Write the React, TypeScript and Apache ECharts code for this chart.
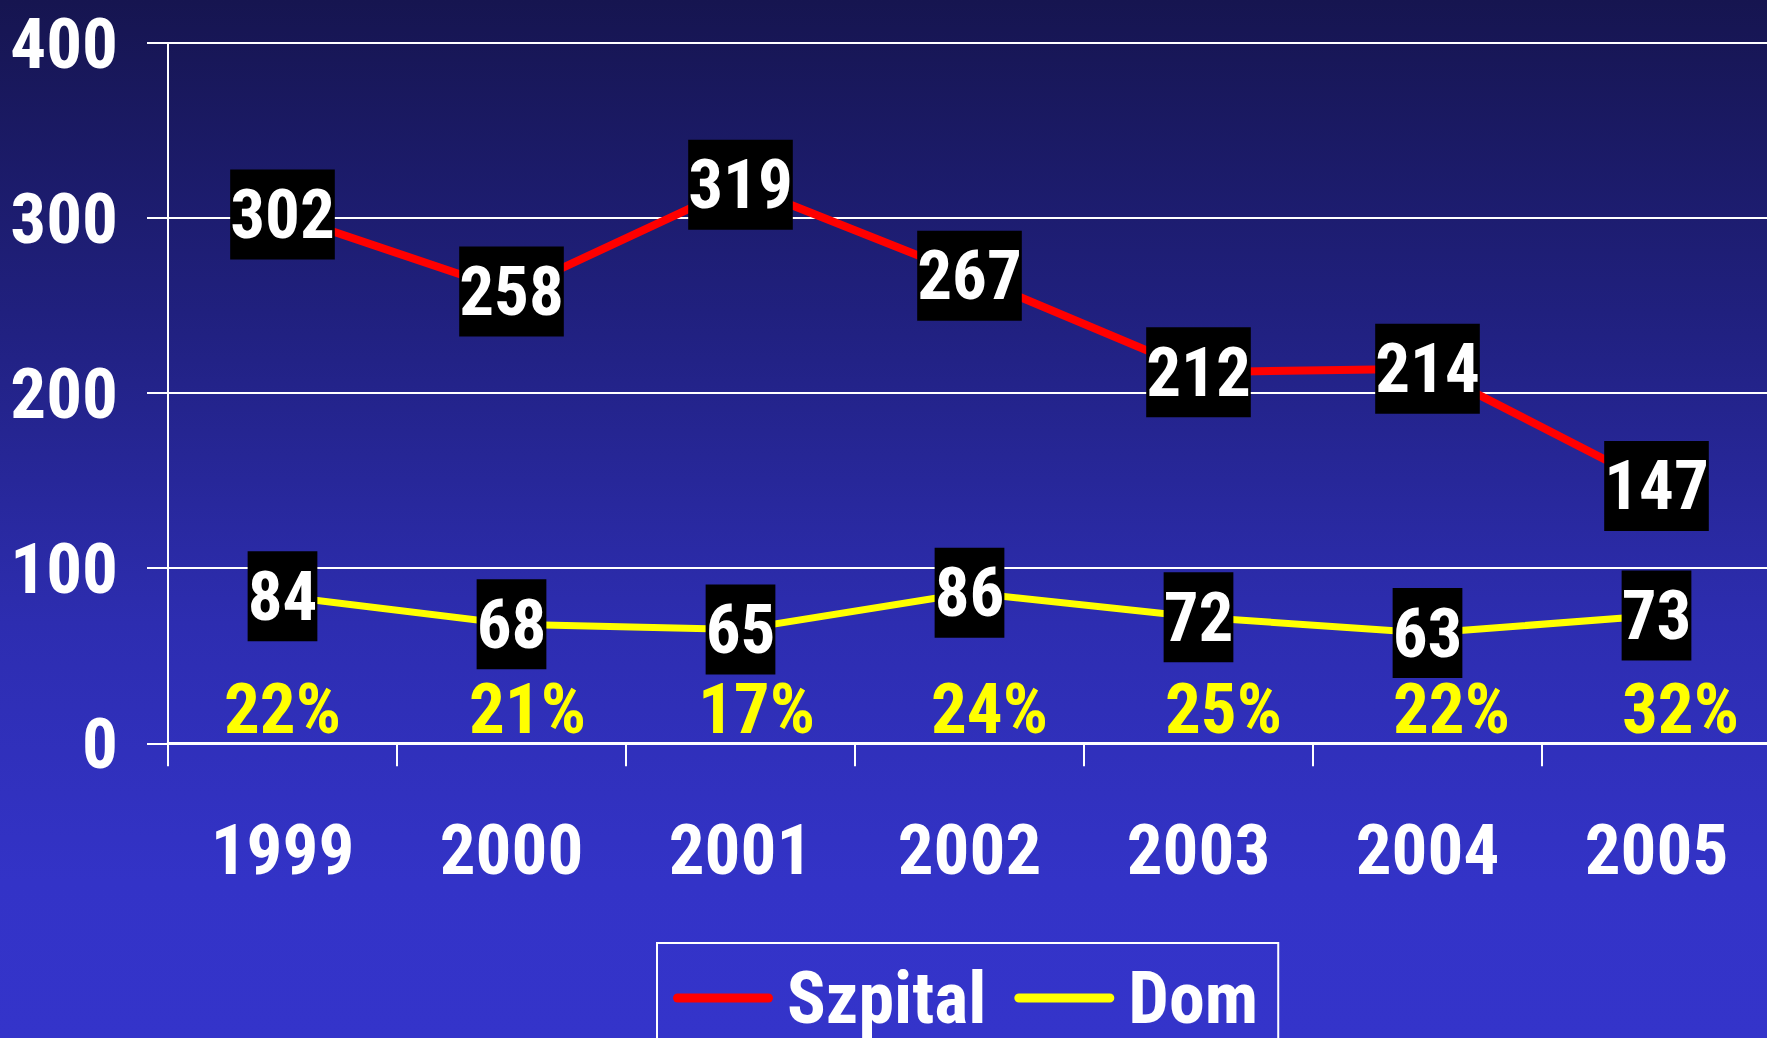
import React, { useEffect, useRef } from "react";
import * as echarts from "echarts";

const years = ["1999", "2000", "2001", "2002", "2003", "2004", "2005"];
const szpital = [302, 258, 319, 267, 212, 214, 147];
const dom = [84, 68, 65, 86, 72, 63, 73];
const domShare = ["22%", "21%", "17%", "24%", "25%", "22%", "32%"];
const yTicks = { min: 0, max: 400, interval: 100 };

const FONT = "'Roboto Condensed', 'Liberation Sans Narrow', 'Arial Narrow', 'Liberation Sans', Arial, sans-serif";
const shareNudge = [0, 16, 16, 20, 25, 24, 24];

export default function App() {
  const ref = useRef<HTMLDivElement>(null);
  useEffect(() => {
    document.body.style.margin = "0";
    document.body.style.overflow = "hidden";
    const chart = echarts.init(ref.current!, null, { renderer: "svg" });
    const rich: Record<string, any> = {};
    shareNudge.forEach((n, i) => {
      rich["s" + i] = {
        color: "#ffff00",
        fontSize: 71,
        lineHeight: 64,
        fontWeight: "bold",
        fontFamily: FONT,
        padding: [0, 0, 0, 2 * n],
      };
    });
    const dataLabel = {
      show: true,
      position: "inside",
      color: "#ffffff",
      backgroundColor: "#000000",
      fontSize: 69,
      fontWeight: "bold",
      fontFamily: FONT,
      lineHeight: 72,
      padding: [9, 0, 9, 0],
    };
    chart.setOption({
      animation: false,
      backgroundColor: new echarts.graphic.LinearGradient(0, 0, 0, 1, [
        { offset: 0, color: "#161550" },
        { offset: 0.3, color: "#20207e" },
        { offset: 0.6, color: "#2d2db0" },
        { offset: 0.85, color: "#3333c7" },
        { offset: 1, color: "#3434ca" },
      ]),
      grid: {
        left: 168,
        top: 43,
        width: 1603,
        height: 700.3,
        containLabel: false,
        outerBoundsMode: "none",
      },
      legend: {
        data: ["Szpital", "Dom"],
        left: 657,
        top: 943,
        orient: "horizontal",
        borderColor: "#ffffff",
        borderWidth: 2,
        padding: [19, 20, 19, 16],
        itemWidth: 100,
        itemHeight: 9,
        itemGap: 28,
        icon: "path://M4.5,0H95.5A4.5,4.5,0,0,1,95.5,9H4.5A4.5,4.5,0,0,1,4.5,0Z",
        textStyle: {
          color: "#ffffff",
          fontSize: 72,
          fontWeight: "bold",
          fontFamily: FONT,
          padding: [0, 0, 0, 9],
        },
      },
      xAxis: [
        {
          type: "category",
          data: years,
          position: "bottom",
          boundaryGap: true,
          axisLine: { show: true, lineStyle: { color: "#ffffff", width: 3 } },
          axisTick: { show: true, interval: 0, length: 23, lineStyle: { color: "#ffffff", width: 2 } },
          axisLabel: {
            interval: 0,
            color: "#ffffff",
            fontSize: 71,
            fontWeight: "bold",
            fontFamily: FONT,
            margin: 106,
            verticalAlign: "middle",
          },
          splitLine: { show: false },
        },
        {
          type: "category",
          data: domShare,
          position: "bottom",
          boundaryGap: true,
          axisLine: { show: false },
          axisTick: { show: false },
          axisLabel: {
            interval: 0,
            inside: true,
            margin: 35,
            verticalAlign: "middle",
            color: "#ffff00",
            fontSize: 71,
            lineHeight: 64,
            fontWeight: "bold",
            fontFamily: FONT,
            formatter: (v: string, i: number) => `{s${i}|${v}}`,
            rich,
          },
          splitLine: { show: false },
        },
      ],
      yAxis: {
        type: "value",
        min: yTicks.min,
        max: yTicks.max,
        interval: yTicks.interval,
        axisLine: { show: true, lineStyle: { color: "#ffffff", width: 2 } },
        axisTick: { show: true, length: 21, lineStyle: { color: "#ffffff", width: 2 } },
        axisLabel: {
          color: "#ffffff",
          fontSize: 71,
          fontWeight: "bold",
          fontFamily: FONT,
          margin: 50,
        },
        splitLine: { show: true, lineStyle: { color: "#ffffff", width: 2 } },
      },
      series: [
        {
          name: "Szpital",
          type: "line",
          data: szpital,
          xAxisIndex: 0,
          symbol: "circle",
          symbolSize: 2,
          itemStyle: { color: "#ff0000" },
          lineStyle: { color: "#ff0000", width: 8 },
          label: dataLabel,
          z: 3,
        },
        {
          name: "Dom",
          type: "line",
          data: dom,
          xAxisIndex: 0,
          symbol: "circle",
          symbolSize: 2,
          itemStyle: { color: "#ffff00" },
          lineStyle: { color: "#ffff00", width: 7 },
          label: dataLabel,
          z: 3,
        },
      ],
    });
    return () => chart.dispose();
  }, []);
  return (
    <div
      ref={ref}
      style={{ position: "absolute", left: 0, top: 0, width: 1767, height: 1038 }}
    />
  );
}
